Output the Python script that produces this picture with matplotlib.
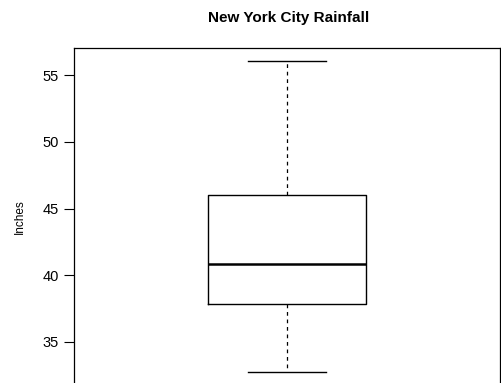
import matplotlib.pyplot as plt
import matplotlib
matplotlib.use("Agg")

# five-number summary of annual rainfall (inches)
whisker_low = 32.7
q1 = 37.85
median = 40.8
q3 = 46.0
whisker_high = 56.1
yticks = [35, 40, 45, 50, 55]

plt.rcParams['font.family'] = ['Liberation Sans', 'DejaVu Sans']

fig = plt.figure(figsize=(5.01, 3.83), dpi=100)
ax = fig.add_axes([74 / 501, -2 / 383, 426 / 501, 337 / 383])

stats = [{
    'whislo': whisker_low, 'q1': q1, 'med': median,
    'q3': q3, 'whishi': whisker_high, 'fliers': [],
}]
ax.bxp(stats, positions=[1], widths=0.371, capwidths=0.185,
       boxprops=dict(color='black', linewidth=1.0),
       medianprops=dict(color='black', linewidth=1.8),
       whiskerprops=dict(color='black', linewidth=0.9, linestyle=(0, (3, 3))),
       capprops=dict(color='black', linewidth=1.0),
       showfliers=False)

ax.set_xlim(0.5, 1.5)
ax.set_ylim(31.76, 57.04)
ax.set_xticks([])
ax.set_yticks(yticks)
ax.tick_params(axis='y', length=7, width=0.8, labelsize=10.5, pad=4)
for s in ax.spines.values():
    s.set_linewidth(0.9)

ax.set_ylabel('Inches', fontsize=8.5, labelpad=12)
fig.text(289 / 501, 1 - 18 / 383, 'New York City Rainfall',
         ha='center', va='center', fontsize=11, fontweight='bold')

fig.savefig('out.png', dpi=100)
